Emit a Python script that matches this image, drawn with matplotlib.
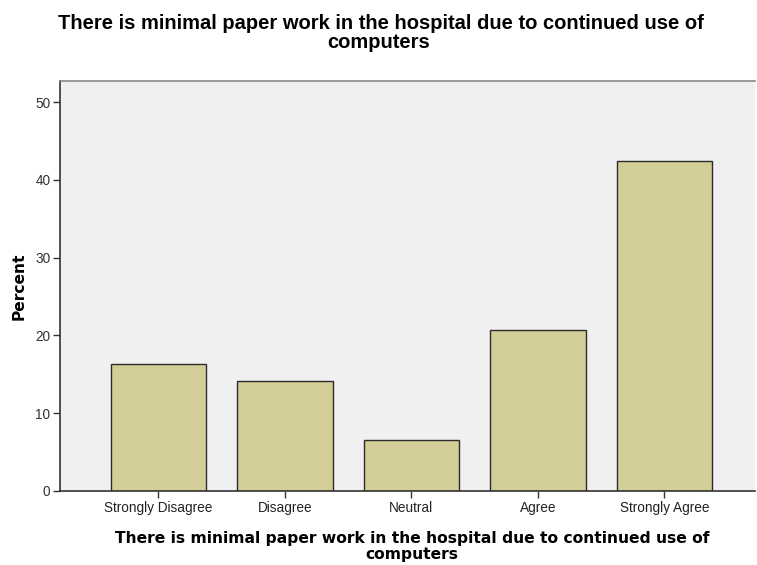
import matplotlib.pyplot as plt
import numpy as np

plt.rcParams['font.family'] = ['Liberation Sans', 'DejaVu Sans']

# survey responses (percent of respondents)
categories = ['Strongly Disagree', 'Disagree', 'Neutral', 'Agree', 'Strongly Agree']
percent = [16.3, 14.1, 6.5, 20.7, 42.4]
y_ticks = [0, 10, 20, 30, 40, 50]
question = ['There is minimal paper work in the hospital due to continued use of', 'computers']

W, H = 757, 565
fig = plt.figure(figsize=(W / 100, H / 100), dpi=100)
# plot area in pixels: left 60, right 755, top 81, bottom 491
ax = fig.add_axes([60 / W, (H - 491) / H, (755 - 60) / W, (491 - 81) / H])
ax.set_facecolor('#f0f0f0')

x = np.arange(len(categories))
ax.bar(x, percent, width=0.755, color='#d3ce98', edgecolor='#2b2b2b', linewidth=1.0, zorder=2)

ax.set_xlim(-0.777, 4.717)
ax.set_ylim(0, 52.7)
ax.set_xticks(x)
ax.set_xticklabels(categories, fontsize=9.8, color='#222222')
ax.set_yticks(y_ticks)
ax.set_yticklabels([str(t) for t in y_ticks], fontsize=9.8, color='#333333')

ax.tick_params(axis='both', direction='out', length=5, width=1.0, color='#333333', pad=2)

for side in ['left', 'bottom']:
    ax.spines[side].set_color('#333333')
    ax.spines[side].set_linewidth(1.2)
ax.spines['top'].set_color('#888888')
ax.spines['top'].set_linewidth(1.2)
ax.spines['right'].set_visible(False)

# "Percent" axis title
fig.text(19 / W, 1 - 286 / H, 'Percent', rotation=90, ha='center', va='center',
         fontsize=11.2, fontweight='bold', family='DejaVu Sans')

# chart title on top and axis title below, one line at a time
fig.text(381 / W, 1 - 29 / H, question[0], ha='center', va='baseline',
         fontsize=14.5, fontweight='bold')
fig.text(379 / W, 1 - 48 / H, question[1], ha='center', va='baseline',
         fontsize=14.5, fontweight='bold')
fig.text(412 / W, 1 - 543 / H, question[0], ha='center', va='baseline',
         fontsize=11.2, fontweight='bold', family='DejaVu Sans')
fig.text(412 / W, 1 - 559 / H, question[1], ha='center', va='baseline',
         fontsize=11.2, fontweight='bold', family='DejaVu Sans')

fig.savefig('out.png', dpi=100)
